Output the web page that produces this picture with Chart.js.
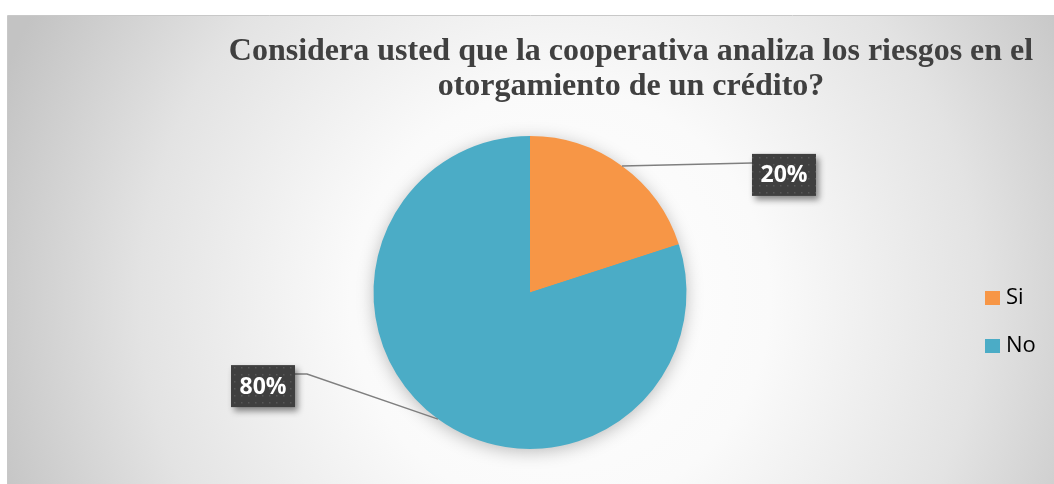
<!DOCTYPE html>
<html>
<head>
<meta charset="utf-8">
<script src="https://cdn.jsdelivr.net/npm/chart.js@4/dist/chart.umd.min.js"></script>
<style>
  html, body { margin: 0; padding: 0; background: #ffffff; }
  #wrap { width: 1054px; height: 484px; }
</style>
</head>
<body>
<div id="wrap"><canvas id="riesgoChart" width="1054" height="484"></canvas></div>
<script>
// Datos de la encuesta
const categorias = ['Si', 'No'];
const porcentajes = [20, 80];
const colores = ['#F79646', '#4BACC6'];
const tituloLineas = [
    'Considera usted que la cooperativa analiza los riesgos en el',
    'otorgamiento de un crédito?'
];

// desplazamiento de cada etiqueta respecto al borde del sector
const guias = [
    { dx: 130, dy: -3, codo: 0, lado: 'der' },
    { dx: -131, dy: -45, codo: 12, lado: 'izq' }
];

// patron punteado de las cajas de etiqueta
function patronCaja(ctx) {
    const c = document.createElement('canvas');
    c.width = 7; c.height = 7;
    const p = c.getContext('2d');
    p.fillStyle = '#3f3f3f';
    p.fillRect(0, 0, 7, 7);
    p.fillStyle = '#575757';
    p.fillRect(3, 3, 1.5, 1.5);
    return ctx.createPattern(c, 'repeat');
}

const fondo = {
    id: 'fondo',
    beforeDraw(chart) {
        const ctx = chart.ctx;
        ctx.save();
        ctx.fillStyle = '#ffffff';
        ctx.fillRect(0, 0, chart.width, chart.height);
        const g = ctx.createRadialGradient(560, 300, 0, 560, 300, 600);
        g.addColorStop(0, '#ffffff');
        g.addColorStop(0.35, '#fafafa');
        g.addColorStop(0.7, '#e3e3e3');
        g.addColorStop(1, '#c3c3c3');
        ctx.fillStyle = g;
        ctx.fillRect(8, 16, chart.width - 8, chart.height - 16);
        ctx.strokeStyle = '#c8c8c8';
        ctx.lineWidth = 1;
        ctx.beginPath();
        ctx.moveTo(7.5, chart.height);
        ctx.lineTo(7.5, 15.5);
        ctx.lineTo(chart.width, 15.5);
        ctx.stroke();

        // titulo
        ctx.fillStyle = '#404040';
        ctx.font = 'bold 32px "Liberation Serif", "Times New Roman", serif';
        ctx.textAlign = 'center';
        ctx.textBaseline = 'alphabetic';
        ctx.fillText(tituloLineas[0], 631, 60);
        ctx.fillText(tituloLineas[1], 631, 95);
        ctx.restore();
    },
    beforeDatasetsDraw(chart) {
        // sombra suave alrededor del pastel
        const arc = chart.getDatasetMeta(0).data[0];
        if (!arc) return;
        const ctx = chart.ctx;
        ctx.save();
        ctx.shadowColor = 'rgba(0,0,0,0.28)';
        ctx.shadowBlur = 18;
        ctx.shadowOffsetY = 3;
        ctx.fillStyle = '#4BACC6';
        ctx.beginPath();
        ctx.arc(arc.x, arc.y, arc.outerRadius - 1, 0, Math.PI * 2);
        ctx.fill();
        ctx.restore();
    }
};

const etiquetas = {
    id: 'etiquetas',
    afterDatasetsDraw(chart) {
        const ctx = chart.ctx;
        const meta = chart.getDatasetMeta(0);
        const patron = patronCaja(ctx);
        meta.data.forEach((arc, i) => {
            const mid = (arc.startAngle + arc.endAngle) / 2;
            const px = arc.x + Math.cos(mid) * arc.outerRadius;
            const py = arc.y + Math.sin(mid) * arc.outerRadius;
            const g = guias[i];
            const ex = px + g.dx, ey = py + g.dy;
            const texto = porcentajes[i] + '%';

            ctx.save();
            ctx.strokeStyle = '#7f7f7f';
            ctx.lineWidth = 1.5;
            ctx.beginPath();
            ctx.moveTo(px, py);
            ctx.lineTo(ex, ey);
            const bw = 64, bh = 42;
            let bx;
            if (g.lado === 'der') {
                bx = ex;
            } else {
                ctx.lineTo(ex - g.codo, ey);
                bx = ex - g.codo - bw;
            }
            ctx.stroke();
            const by = ey - 9;

            ctx.shadowColor = 'rgba(0,0,0,0.45)';
            ctx.shadowBlur = 6;
            ctx.shadowOffsetX = 3;
            ctx.shadowOffsetY = 4;
            ctx.fillStyle = patron;
            ctx.fillRect(bx, by, bw, bh);
            ctx.shadowColor = 'transparent';

            ctx.fillStyle = '#ffffff';
            ctx.font = 'bold 23px "Open Sans", sans-serif';
            ctx.textAlign = 'center';
            ctx.textBaseline = 'middle';
            ctx.fillText(texto, bx + bw / 2, by + bh / 2 + 1);
            ctx.restore();
        });

        // leyenda
        ctx.save();
        ctx.font = '22px "Open Sans", sans-serif';
        ctx.textBaseline = 'middle';
        ctx.textAlign = 'left';
        categorias.forEach((cat, i) => {
            const y = 298 + i * 48;
            ctx.fillStyle = colores[i];
            ctx.fillRect(985, y - 7, 15, 14);
            ctx.fillStyle = '#000000';
            ctx.fillText(cat, 1006, y);
        });
        ctx.restore();
    }
};

new Chart(document.getElementById('riesgoChart'), {
    type: 'pie',
    data: {
        labels: categorias,
        datasets: [{
            data: porcentajes,
            backgroundColor: colores,
            borderWidth: 0
        }]
    },
    options: {
        responsive: false,
        animation: false,
        layout: { padding: { left: 373, right: 367, top: 136, bottom: 35 } },
        plugins: {
            legend: { display: false },
            tooltip: { enabled: false },
            title: { display: false }
        }
    },
    plugins: [fondo, etiquetas]
});
</script>
</body>
</html>
